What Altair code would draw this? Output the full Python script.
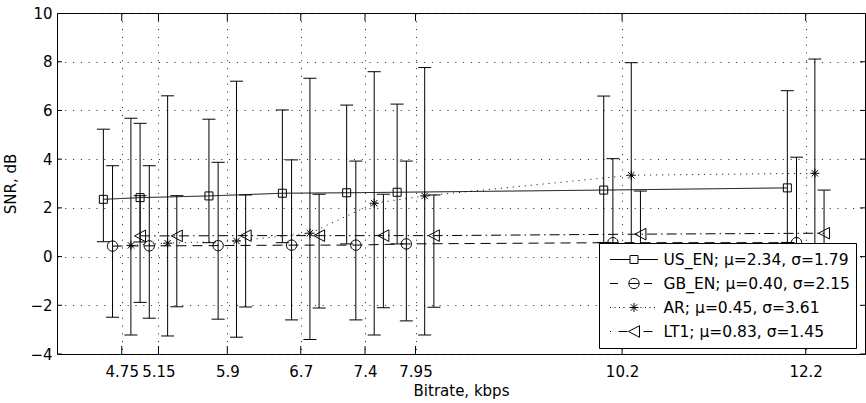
import math
import altair as alt
import pandas as pd

# ---------------- data ----------------
BITRATES = [4.75, 5.15, 5.9, 6.7, 7.4, 7.95, 10.2, 12.2]
SERIES = ["US_EN", "GB_EN", "AR", "LT1"]
LEGEND_LABELS = [
    "US_EN; μ=2.34, σ=1.79",
    "GB_EN; μ=0.40, σ=2.15",
    "AR; μ=0.45, σ=3.61",
    "LT1; μ=0.83, σ=1.45",
]

US_EN_MEAN = [2.35, 2.42, 2.49, 2.60, 2.62, 2.64, 2.73, 2.82]
US_EN_HIGH = [5.23, 5.47, 5.64, 6.02, 6.22, 6.26, 6.59, 6.81]
US_EN_LOW = [0.61, 0.60, 0.57, 0.57, 0.52, 0.52, 0.58, 0.58]

GB_EN_MEAN = [0.43, 0.44, 0.45, 0.47, 0.47, 0.52, 0.57, 0.57]
GB_EN_HIGH = [3.73, 3.73, 3.87, 3.97, 3.92, 3.92, 4.02, 4.08]
GB_EN_LOW = [-2.49, -2.53, -2.57, -2.60, -2.60, -2.64, -2.62, -2.62]

AR_MEAN = [0.46, 0.55, 0.64, 0.96, 2.19, 2.49, 3.34, 3.42]
AR_HIGH = [5.68, 6.60, 7.20, 7.32, 7.59, 7.76, 7.96, 8.11]
AR_LOW = [-3.22, -3.26, -3.31, -3.40, -3.22, -3.22, -3.30, -3.30]

LT1_MEAN = [0.85, 0.85, 0.86, 0.86, 0.86, 0.86, 0.92, 0.96]
LT1_HIGH = [2.50, 2.50, 2.53, 2.56, 2.56, 2.53, 2.69, 2.73]
LT1_LOW = [-1.88, -2.06, -2.07, -2.11, -2.10, -2.08, -2.10, -2.10]

Y_TICKS = [-4, -2, 0, 2, 4, 6, 8, 10]

MEANS = [US_EN_MEAN, GB_EN_MEAN, AR_MEAN, LT1_MEAN]
HIGHS = [US_EN_HIGH, GB_EN_HIGH, AR_HIGH, LT1_HIGH]
LOWS = [US_EN_LOW, GB_EN_LOW, AR_LOW, LT1_LOW]

# ---------------- layout / style ----------------
GROUP_OFFSETS = [-0.2, -0.1, 0.1, 0.2]   # horizontal shift of each series inside a bitrate group
X_DOMAIN = [4.045, 12.846]
Y_DOMAIN = [-4, 10]
FONT = "DejaVu Sans"
DASHES = [[1, 0], [10, 6], [1, 5], [10, 4, 1.5, 4]]

rows = []
for s, label in enumerate(LEGEND_LABELS):
    for i, b in enumerate(BITRATES):
        rows.append({
            "series": label,
            "bitrate": b,
            "x": b + GROUP_OFFSETS[s],
            "mean": MEANS[s][i],
            "hi": HIGHS[s][i],
            "lo": LOWS[s][i],
        })
df = pd.DataFrame(rows)

xtick_df = pd.DataFrame({"x": BITRATES * 2,
                         "y": [Y_DOMAIN[0]] * len(BITRATES) + [Y_DOMAIN[1]] * len(BITRATES)})
ytick_df = pd.DataFrame({"x": [X_DOMAIN[0]] * len(Y_TICKS) + [X_DOMAIN[1]] * len(Y_TICKS),
                         "y": Y_TICKS * 2})


# marker geometry in pixels (polylines, closed flag)
def circle_pts(r, n=20):
    return [(r * math.cos(2 * math.pi * k / n), r * math.sin(2 * math.pi * k / n)) for k in range(n)]


MARKER_GEOM = [
    [([(-4, -4), (4, -4), (4, 4), (-4, 4)], True)],
    [(circle_pts(5.2), True)],
    [([(-4.5, 0), (4.5, 0)], False), ([(0, -4.5), (0, 4.5)], False),
     ([(-3.2, -3.2), (3.2, 3.2)], False), ([(-3.2, 3.2), (3.2, -3.2)], False)],
    [([(-5.5, 0), (5.5, -5.8), (5.5, 5.8)], True)],
]

# legend line samples (pixel segments)
def dots(start, stop, step):
    out = []
    p = start
    while p <= stop:
        out.append((p, p + 1))
        p += step
    return out


LEGEND_SEGS = [
    [(-24, -4), (4, 24)],
    [(-24, -16), (-5, 5), (10, 18)],
    dots(-24, -7, 4.5) + dots(6.5, 23, 4.5),
    dots(-24, -20, 4.5) + [(-15.5, -6.5), (9.5, 18.5)],
]


def f(v):
    return f"{v:.4f}"


def to_path(polys, segs, unit):
    parts = []
    for a, b in segs:
        parts.append(f"M{f(a / unit)},0L{f(b / unit)},0")
    for pts, closed in polys:
        d = "M" + "L".join(f"{f(x / unit)},{f(y / unit)}" for x, y in pts)
        if closed:
            d += "Z"
        parts.append(d)
    return "".join(parts)


MARKER_UNIT = 6.0          # px per path unit -> size (2*6)^2
MARKER_SIZE = (2 * MARKER_UNIT) ** 2
LEGEND_UNIT = 29.0
LEGEND_SYMBOL_SIZE = (2 * LEGEND_UNIT) ** 2

MARKER_PATHS = [to_path(g, [], MARKER_UNIT) for g in MARKER_GEOM]
LEGEND_PATHS = [to_path(g, s, LEGEND_UNIT) for g, s in zip(MARKER_GEOM, LEGEND_SEGS)]

xs = alt.Scale(domain=X_DOMAIN, nice=False, zero=False)
ys = alt.Scale(domain=Y_DOMAIN, nice=False, zero=False)
xaxis = alt.Axis(values=BITRATES, format=".3~g", title="Bitrate, kbps", labelOverlap=False,
                 labelFlush=False, labelPadding=10, titlePadding=4, grid=True, ticks=False, domain=False)
yaxis = alt.Axis(values=Y_TICKS, format="d", title="SNR, dB", labelPadding=5, titlePadding=11,
                 grid=True, ticks=False, domain=False)


def X(field="x"):
    return alt.X(f"{field}:Q", scale=xs, axis=xaxis)


def Y(field):
    return alt.Y(f"{field}:Q", scale=ys, axis=yaxis)


base = alt.Chart(df)

bars = base.mark_rule(color="black", strokeWidth=1).encode(x=X(), y=Y("lo"), y2=alt.Y2("hi"))
caps_hi = base.mark_tick(orient="horizontal", size=13, thickness=1, color="black", opacity=1).encode(
    x=X(), y=Y("hi"))
caps_lo = base.mark_tick(orient="horizontal", size=13, thickness=1, color="black", opacity=1).encode(
    x=X(), y=Y("lo"))

lines = base.mark_line(color="black", strokeWidth=1).encode(
    x=X(), y=Y("mean"),
    strokeDash=alt.StrokeDash("series:N", scale=alt.Scale(domain=LEGEND_LABELS, range=DASHES), legend=None),
    order=alt.Order("x:Q"),
)

points = base.mark_point(filled=False, color="black", opacity=1, strokeWidth=1, size=MARKER_SIZE).encode(
    x=X(), y=Y("mean"),
    shape=alt.Shape("series:N", scale=alt.Scale(domain=LEGEND_LABELS, range=MARKER_PATHS), legend=None),
)

legend_layer = base.transform_filter("false").mark_point(
    filled=False, color="black", opacity=1, strokeWidth=1).encode(
    x=X(), y=Y("mean"),
    shape=alt.Shape("series:N", scale=alt.Scale(domain=LEGEND_LABELS, range=LEGEND_PATHS),
                    legend=alt.Legend(
                        orient="none", legendX=542, legendY=230, title=None,
                        fillColor="white", strokeColor="black", padding=5.5,
                        rowPadding=2, clipHeight=22, symbolSize=LEGEND_SYMBOL_SIZE,
                        symbolStrokeWidth=1, symbolStrokeColor="black",
                        symbolFillColor="transparent", symbolOpacity=1,
                        labelFont=FONT, labelFontSize=15.5, labelColor="black",
                        labelLimit=400, labelOffset=0,
                    )),
)

xticks = alt.Chart(xtick_df).mark_tick(orient="vertical", size=16, thickness=1, color="black",
                                        opacity=1, clip=True).encode(x=X(), y=Y("y"))
yticks = alt.Chart(ytick_df).mark_tick(orient="horizontal", size=10, thickness=1, color="black",
                                        opacity=1, clip=True).encode(x=X(), y=Y("y"))

chart = alt.layer(bars, caps_hi, caps_lo, lines, points, xticks, yticks, legend_layer).resolve_scale(
    shape="independent"
).properties(
    width=808, height=341, autosize="none",
    padding={"left": 57, "top": 13, "right": 1, "bottom": 49},
    background="white",
).configure_view(
    stroke="black", strokeWidth=1,
).configure_axis(
    labelFont=FONT, labelFontSize=15, labelColor="black",
    titleFont=FONT, titleFontSize=15, titleFontWeight="normal", titleColor="black",
    gridColor="#222222", gridOpacity=1, gridDash=[1, 6.8], gridWidth=1,
)

chart.save("out.html", embed_options={"renderer": "svg", "actions": False})
